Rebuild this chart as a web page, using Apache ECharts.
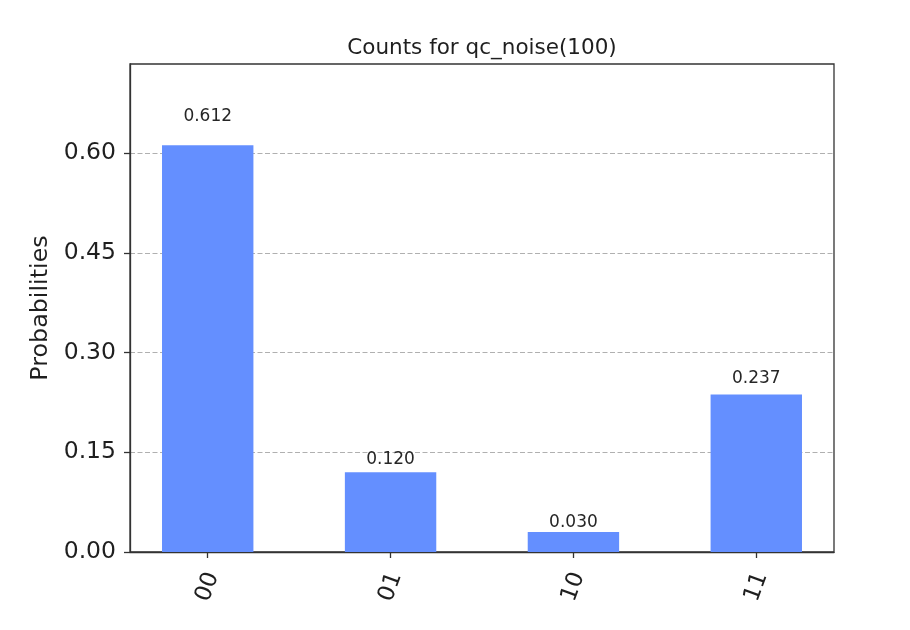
<!DOCTYPE html>
<html>
<head>
<meta charset="utf-8">
<script src="https://cdn.jsdelivr.net/npm/echarts@6/dist/echarts.min.js"></script>
<style>html,body{margin:0;padding:0;background:#fff}#chart{width:910px;height:630px}</style>
</head>
<body>
<div id="chart"></div>
<script>
const categories = ['00', '01', '10', '11'];
const probabilities = [0.612, 0.120, 0.030, 0.237];
const yTicks = [0, 0.15, 0.30, 0.45, 0.60];
const titleText = 'Counts for qc_noise(100)';
const yName = 'Probabilities';

const FONT = 'DejaVu Sans';
const TXT = '#1f1f1f';
const AX = '#333333';
const xPositions = categories.map((c, i) => i);

const chart = echarts.init(document.getElementById('chart'), null, {renderer: 'canvas'});
chart.setOption({
  animation: false,
  backgroundColor: '#ffffff',
  title: {
    text: titleText,
    left: 482, top: 37, padding: 0,
    textAlign: 'center', textVerticalAlign: 'top',
    textStyle: {fontFamily: FONT, fontSize: 21.5, fontWeight: 'normal', color: TXT}
  },
  grid: {
    left: 130, right: 76, top: 64, bottom: 78,
    show: true, borderColor: AX, borderWidth: 1.3, backgroundColor: 'transparent',
    outerBoundsMode: 'none', containLabel: false
  },
  xAxis: {
    type: 'value', min: -0.425, max: 3.425,
    axisLine: {show: true, onZero: false, lineStyle: {color: AX, width: 1.3}},
    axisTick: {show: true, length: 6, inside: false, customValues: xPositions, lineStyle: {color: AX, width: 1.3}},
    splitLine: {show: false},
    axisLabel: {
      customValues: xPositions,
      rotate: 70, align: 'center', verticalAlign: 'middle', margin: 35,
      fontFamily: FONT, fontSize: 23, color: TXT,
      formatter: v => categories[Math.round(v)]
    }
  },
  yAxis: {
    type: 'value', min: 0, max: 0.7344,
    name: yName, nameLocation: 'middle', nameGap: 70,
    nameTextStyle: {fontFamily: FONT, fontSize: 23.8, color: TXT},
    axisLine: {show: true, onZero: false, lineStyle: {color: AX, width: 1.3}},
    axisTick: {show: true, length: 6, inside: false, customValues: yTicks, lineStyle: {color: AX, width: 1.3}},
    splitLine: {show: true, lineStyle: {color: '#b0b0b0', width: 1, type: [5, 2.5]}},
    axisLabel: {
      customValues: yTicks, margin: 14,
      fontFamily: FONT, fontSize: 23.5, color: TXT,
      formatter: v => v.toFixed(2)
    }
  },
  series: [
    {
      type: 'bar',
      data: probabilities.map((v, i) => [xPositions[i], v]),
      barWidth: 91.4,
      itemStyle: {color: '#648fff'},
      z: 2
    },
    {
      type: 'scatter',
      data: probabilities.map((v, i) => [xPositions[i], v * 1.05]),
      symbolSize: 0,
      silent: true,
      z: 3,
      itemStyle: {opacity: 1},
      label: {
        show: true, position: 'top', distance: 0,
        fontFamily: FONT, fontSize: 17, color: '#262626', opacity: 1,
        formatter: p => probabilities[p.dataIndex].toFixed(3)
      }
    }
  ]
});
</script>
</body>
</html>
